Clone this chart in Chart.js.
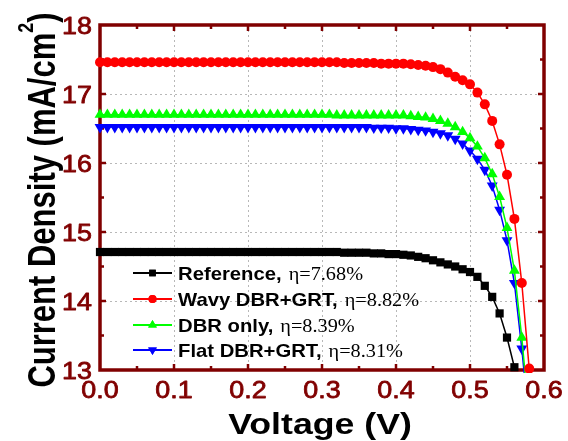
<!DOCTYPE html>
<html>
<head>
<meta charset="utf-8">
<script src="https://cdn.jsdelivr.net/npm/chart.js@4.4.1/dist/chart.umd.min.js"></script>
<style>
  html, body { margin: 0; padding: 0; background: #fff; }
  #jv { display: block; }
</style>
</head>
<body>
<canvas id="jv" width="568" height="441"></canvas>
<script>
// J-V curves, values (V in volts, J in mA/cm2)
const voltage = [
  0.00, 0.01, 0.02, 0.03, 0.04, 0.05, 0.06, 0.07, 0.08, 0.09,
  0.10, 0.11, 0.12, 0.13, 0.14, 0.15, 0.16, 0.17, 0.18, 0.19,
  0.20, 0.21, 0.22, 0.23, 0.24, 0.25, 0.26, 0.27, 0.28, 0.29,
  0.30, 0.31, 0.32, 0.33, 0.34, 0.35, 0.36, 0.37, 0.38, 0.39,
  0.40, 0.41, 0.42, 0.43, 0.44, 0.45, 0.46, 0.47, 0.48, 0.49,
  0.50, 0.51, 0.52, 0.53, 0.54, 0.55, 0.56, 0.57, 0.58
];

const jReference = [
  14.71, 14.71, 14.71, 14.71, 14.71, 14.71, 14.71, 14.71, 14.71, 14.71,
  14.71, 14.71, 14.71, 14.71, 14.71, 14.71, 14.71, 14.71, 14.71, 14.71,
  14.71, 14.71, 14.71, 14.71, 14.71, 14.71, 14.71, 14.71, 14.71, 14.71,
  14.71, 14.71, 14.71, 14.70, 14.70, 14.70, 14.70, 14.69, 14.69, 14.68,
  14.68, 14.67, 14.66, 14.64, 14.62, 14.59, 14.56, 14.53, 14.50, 14.46,
  14.42, 14.35, 14.22, 14.06, 13.82, 13.47, 13.04
];

const jWavy = [
  17.46, 17.46, 17.46, 17.46, 17.46, 17.46, 17.46, 17.46, 17.46, 17.46,
  17.46, 17.46, 17.46, 17.46, 17.46, 17.46, 17.46, 17.46, 17.46, 17.46,
  17.46, 17.46, 17.46, 17.46, 17.46, 17.46, 17.46, 17.46, 17.46, 17.46,
  17.46, 17.46, 17.46, 17.45, 17.45, 17.45, 17.45, 17.45, 17.44, 17.44,
  17.44, 17.44, 17.43, 17.42, 17.41, 17.39, 17.36, 17.31, 17.25, 17.20,
  17.14, 17.02, 16.85, 16.61, 16.27, 15.83, 15.19, 14.26, 13.02
];

const jDbrOnly = [
  16.70, 16.70, 16.70, 16.70, 16.70, 16.70, 16.70, 16.70, 16.70, 16.70,
  16.70, 16.70, 16.70, 16.70, 16.70, 16.70, 16.70, 16.70, 16.70, 16.70,
  16.70, 16.70, 16.70, 16.70, 16.70, 16.70, 16.70, 16.70, 16.70, 16.70,
  16.70, 16.70, 16.69, 16.69, 16.69, 16.69, 16.69, 16.69, 16.69, 16.69,
  16.69, 16.69, 16.68, 16.67, 16.66, 16.64, 16.61, 16.57, 16.52, 16.45,
  16.36, 16.24, 16.07, 15.84, 15.51, 15.06, 14.44, 13.47, 12.30
];

const jFlat = [
  16.52, 16.52, 16.52, 16.52, 16.52, 16.52, 16.52, 16.52, 16.52, 16.52,
  16.52, 16.52, 16.52, 16.52, 16.52, 16.52, 16.52, 16.52, 16.52, 16.52,
  16.52, 16.52, 16.52, 16.52, 16.52, 16.52, 16.52, 16.52, 16.52, 16.52,
  16.52, 16.52, 16.52, 16.52, 16.52, 16.52, 16.52, 16.51, 16.51, 16.51,
  16.50, 16.50, 16.49, 16.48, 16.47, 16.45, 16.43, 16.40, 16.35, 16.28,
  16.18, 16.06, 15.90, 15.67, 15.32, 14.88, 14.26, 13.31, 12.20
];

const seriesLabels = [
  'Reference, η=7.68%',
  'Wavy DBR+GRT, η=8.82%',
  'DBR only, η=8.39%',
  'Flat DBR+GRT, η=8.31%'
];

const xTitle = 'Voltage (V)';
const yTitle = 'Current Density (mA/cm';
const yTitleSup = '2';

const AXIS = '#800000';

function points(arr) {
  return arr.map((j, i) => ({ x: voltage[i], y: j }));
}

function series(label, arr, color, style, radius, rotation) {
  return {
    label,
    data: points(arr),
    borderColor: color,
    backgroundColor: color,
    borderWidth: 1.5,
    pointStyle: style,
    pointRadius: radius,
    pointRotation: rotation,
    pointBorderWidth: 0,
    pointBackgroundColor: color,
    tension: 0,
    clip: { left: 10, top: 10, right: 10, bottom: 3 }
  };
}

// stretched text, the reference is a bit wide horizontally
function stretchText(ctx, str, x, y, font, color, align, sx, stroke) {
  ctx.save();
  ctx.translate(x, y);
  ctx.scale(sx, 1);
  ctx.font = font;
  ctx.fillStyle = color;
  ctx.textAlign = align;
  ctx.textBaseline = 'alphabetic';
  ctx.fillText(str, 0, 0);
  if (stroke) {
    ctx.strokeStyle = color;
    ctx.lineWidth = stroke;
    ctx.lineJoin = 'round';
    ctx.strokeText(str, 0, 0);
  }
  ctx.restore();
}

const framePlugin = {
  id: 'frame',
  beforeDatasetsDraw(chart) {
    const { ctx, chartArea: a, scales: { x, y } } = chart;
    ctx.save();
    // dotted grid at major ticks
    ctx.strokeStyle = '#b8b8b8';
    ctx.lineWidth = 1;
    ctx.setLineDash([2, 3]);
    x.ticks.forEach(t => {
      const px = Math.round(x.getPixelForValue(t.value)) + 0.5;
      if (px <= a.left + 2 || px >= a.right - 2) return;
      ctx.beginPath(); ctx.moveTo(px, a.top); ctx.lineTo(px, a.bottom); ctx.stroke();
    });
    y.ticks.forEach(t => {
      const py = Math.round(y.getPixelForValue(t.value)) + 0.5;
      if (py <= a.top + 2 || py >= a.bottom - 2) return;
      ctx.beginPath(); ctx.moveTo(a.left, py); ctx.lineTo(a.right, py); ctx.stroke();
    });
    ctx.setLineDash([]);

    // frame
    ctx.strokeStyle = AXIS;
    ctx.lineWidth = 3.5;
    ctx.strokeRect(a.left, a.top, a.right - a.left, a.bottom - a.top);

    // inward ticks, majors + minors on all four sides
    ctx.lineWidth = 2.5;
    const xStep = 0.05, yStep = 0.5;
    for (let k = 1; k * xStep < x.max - 1e-9; k++) {
      const v = k * xStep;
      const px = x.getPixelForValue(v);
      const len = (k % 2 === 0) ? 6 : 4;
      ctx.beginPath();
      ctx.moveTo(px, a.bottom); ctx.lineTo(px, a.bottom - len);
      ctx.moveTo(px, a.top); ctx.lineTo(px, a.top + len);
      ctx.stroke();
    }
    for (let k = 1; y.min + k * yStep < y.max - 1e-9; k++) {
      const v = y.min + k * yStep;
      const py = y.getPixelForValue(v);
      const len = (k % 2 === 0) ? 6 : 4;
      ctx.beginPath();
      ctx.moveTo(a.left, py); ctx.lineTo(a.left + len, py);
      ctx.moveTo(a.right, py); ctx.lineTo(a.right - len, py);
      ctx.stroke();
    }
    ctx.restore();
  },
  afterDraw(chart) {
    const { ctx, chartArea: a, scales: { x, y } } = chart;
    const fTick = '24px "Liberation Sans", Arial, sans-serif';
    // tick labels
    x.ticks.forEach(t => {
      stretchText(ctx, t.value.toFixed(1), x.getPixelForValue(t.value), 398,
        fTick, AXIS, 'center', 1.12, 0.8);
    });
    y.ticks.forEach(t => {
      stretchText(ctx, String(t.value), 92, y.getPixelForValue(t.value) + 8.6,
        fTick, AXIS, 'right', 1.12, 0.8);
    });

    // x title
    stretchText(ctx, xTitle, (a.left + a.right) / 2 - 2, 434,
      'bold 29px "Liberation Sans", Arial, sans-serif', '#000', 'center', 1.23);

    // y title, rotated, with superscript
    ctx.save();
    ctx.translate(55, 200);
    ctx.scale(1.25, 1);
    ctx.rotate(-Math.PI / 2);
    ctx.fillStyle = '#000';
    ctx.textBaseline = 'alphabetic';
    ctx.textAlign = 'left';
    const fMain = 'bold 31px "Liberation Sans", Arial, sans-serif';
    const fSup = 'bold 18px "Liberation Sans", Arial, sans-serif';
    ctx.font = fMain;
    const w1 = ctx.measureText(yTitle).width;
    const w3 = ctx.measureText(')').width;
    ctx.font = fSup;
    const w2 = ctx.measureText(yTitleSup).width;
    let cx = -(w1 + w2 + w3) / 2;
    ctx.font = fMain;
    ctx.fillText(yTitle, cx, 0);
    cx += w1;
    ctx.font = fSup;
    ctx.fillText(yTitleSup, cx, -18);
    cx += w2;
    ctx.font = fMain;
    ctx.fillText(')', cx, 0);
    ctx.restore();

    // legend inside the plot
    const rows = [273, 299, 325, 350];
    chart.data.datasets.forEach((ds, i) => {
      const cy = rows[i];
      ctx.save();
      ctx.strokeStyle = ds.borderColor;
      ctx.fillStyle = ds.borderColor;
      ctx.lineWidth = 2;
      ctx.beginPath(); ctx.moveTo(133, cy); ctx.lineTo(172, cy); ctx.stroke();
      Chart.helpers.drawPoint(ctx, {
        pointStyle: ds.pointStyle, radius: ds.pointRadius * 0.8,
        rotation: ds.pointRotation, borderWidth: 0
      }, 152.5, cy);
      ctx.fill();
      ctx.restore();

      const cut = ds.label.indexOf('η');
      const head = ds.label.slice(0, cut).trimEnd();
      const tail = ds.label.slice(cut);
      const fHead = 'bold 18.6px "Liberation Sans", Arial, sans-serif';
      const fTail = '18.6px "Liberation Serif", "Times New Roman", serif';
      stretchText(ctx, head, 178, cy + 6.6, fHead, '#000', 'left', 1.09);
      ctx.font = fHead;
      const hw = ctx.measureText(head).width * 1.09;
      stretchText(ctx, tail, 178 + hw + 7, cy + 6.6, fTail, '#000', 'left', 1.09);
    });
  }
};

new Chart(document.getElementById('jv'), {
  type: 'line',
  data: {
    datasets: [
      series(seriesLabels[0], jReference, '#000000', 'rect', 5.8, 0),
      series(seriesLabels[1], jWavy, '#ff0000', 'circle', 5, 0),
      series(seriesLabels[2], jDbrOnly, '#00ff00', 'triangle', 6.3, 0),
      series(seriesLabels[3], jFlat, '#0000ff', 'triangle', 6.3, 180)
    ]
  },
  options: {
    responsive: false,
    animation: false,
    layout: { padding: { left: 100, top: 25, right: 24, bottom: 71 } },
    scales: {
      x: { type: 'linear', display: false, min: 0, max: 0.6, ticks: { stepSize: 0.1 } },
      y: { type: 'linear', display: false, min: 13, max: 18, ticks: { stepSize: 1 } }
    },
    plugins: { legend: { display: false }, tooltip: { enabled: false } }
  },
  plugins: [framePlugin]
});
</script>
</body>
</html>
